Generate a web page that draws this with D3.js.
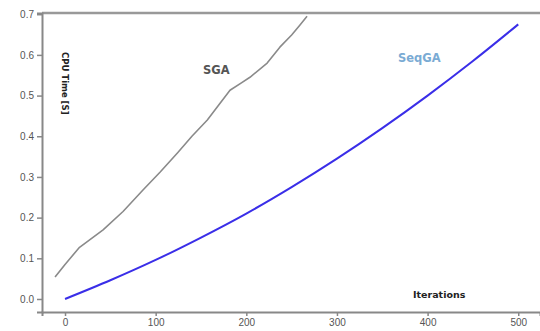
<!DOCTYPE html>
<html>
<head>
<meta charset="utf-8">
<script src="https://cdn.jsdelivr.net/npm/d3@7"></script>
<style>
  body { margin: 0; background: #fff; }
  svg { display: block; font-family: "DejaVu Sans", sans-serif; }
</style>
</head>
<body>
<svg width="540" height="331"></svg>
<script>
// values
var sgaIter  = [-11, 0, 16, 42, 64, 86, 105, 124, 140, 157, 170, 182, 195, 204, 223, 237, 250, 259, 267];
var sgaTime  = [0.054, 0.085, 0.127, 0.17, 0.215, 0.268, 0.312, 0.359, 0.40, 0.44, 0.478, 0.513, 0.532, 0.545, 0.58, 0.619, 0.649, 0.673, 0.695];
var seqIter  = [0, 50, 100, 150, 200, 250, 300, 350, 400, 450, 500];
var seqTime  = [0, 0.046, 0.096, 0.151, 0.21, 0.275, 0.345, 0.42, 0.50, 0.585, 0.675];
var xTicks = [0, 100, 200, 300, 400, 500];
var yTicks = [0.0, 0.1, 0.2, 0.3, 0.4, 0.5, 0.6, 0.7];

var svg = d3.select("svg"),
    plotLeft = 42, plotTop = 13, plotRight = 540, plotBottom = 312;

var x = d3.scaleLinear().domain([-25.4, 524]).range([plotLeft, plotRight]),
    y = d3.scaleLinear().domain([-0.032, 0.703]).range([plotBottom, plotTop]);

// frame: top border
svg.append("line")
   .attr("x1", plotLeft).attr("x2", plotRight)
   .attr("y1", plotTop).attr("y2", plotTop)
   .attr("stroke", "#999").attr("stroke-width", 2.5);

var xAxis = svg.append("g")
   .attr("transform", "translate(0," + plotBottom + ")")
   .call(d3.axisBottom(x).tickValues(xTicks).tickSize(4).tickPadding(3).tickFormat(d3.format("d")));

var yAxis = svg.append("g")
   .attr("transform", "translate(" + plotLeft + ",0)")
   .call(d3.axisLeft(y).tickValues(yTicks).tickSize(5).tickPadding(3).tickFormat(d3.format(".1f")));

[xAxis, yAxis].forEach(function(a) {
    a.select(".domain").attr("stroke", "#888").attr("stroke-width", 2);
    a.selectAll(".tick line").attr("stroke", "#888").attr("stroke-width", 1.5);
    a.selectAll(".tick text").attr("fill", "#555").style("font-size", "10px");
});

var line = d3.line()
    .x(function(d) { return x(d[0]); })
    .y(function(d) { return y(d[1]); });

var seq = d3.line()
    .curve(d3.curveMonotoneX)
    .x(function(d) { return x(d[0]); })
    .y(function(d) { return y(d[1]); });

svg.append("path")
   .datum(d3.zip(sgaIter, sgaTime))
   .attr("fill", "none")
   .attr("stroke", "#8a8a8a")
   .attr("stroke-width", 1.6)
   .attr("stroke-linejoin", "round")
   .attr("d", line);

svg.append("path")
   .datum(d3.zip(seqIter, seqTime))
   .attr("fill", "none")
   .attr("stroke", "#3a2ee8")
   .attr("stroke-width", 2)
   .attr("d", seq);

// labels
svg.append("text")
   .attr("x", 203).attr("y", 74)
   .attr("fill", "#555")
   .style("font-size", "11.5px").style("font-weight", "bold")
   .text("SGA");

svg.append("text")
   .attr("x", 398).attr("y", 62)
   .attr("fill", "#7aabd4")
   .style("font-size", "11.5px").style("font-weight", "bold")
   .text("SeqGA");

svg.append("text")
   .attr("x", 413).attr("y", 298)
   .attr("fill", "#222")
   .style("font-size", "9.5px").style("font-weight", "bold")
   .text("Iterations");

svg.append("text")
   .attr("transform", "translate(62,52) rotate(90)")
   .attr("fill", "#222")
   .style("font-size", "8.5px").style("font-weight", "bold")
   .text("CPU Time [S]");
</script>
</body>
</html>
